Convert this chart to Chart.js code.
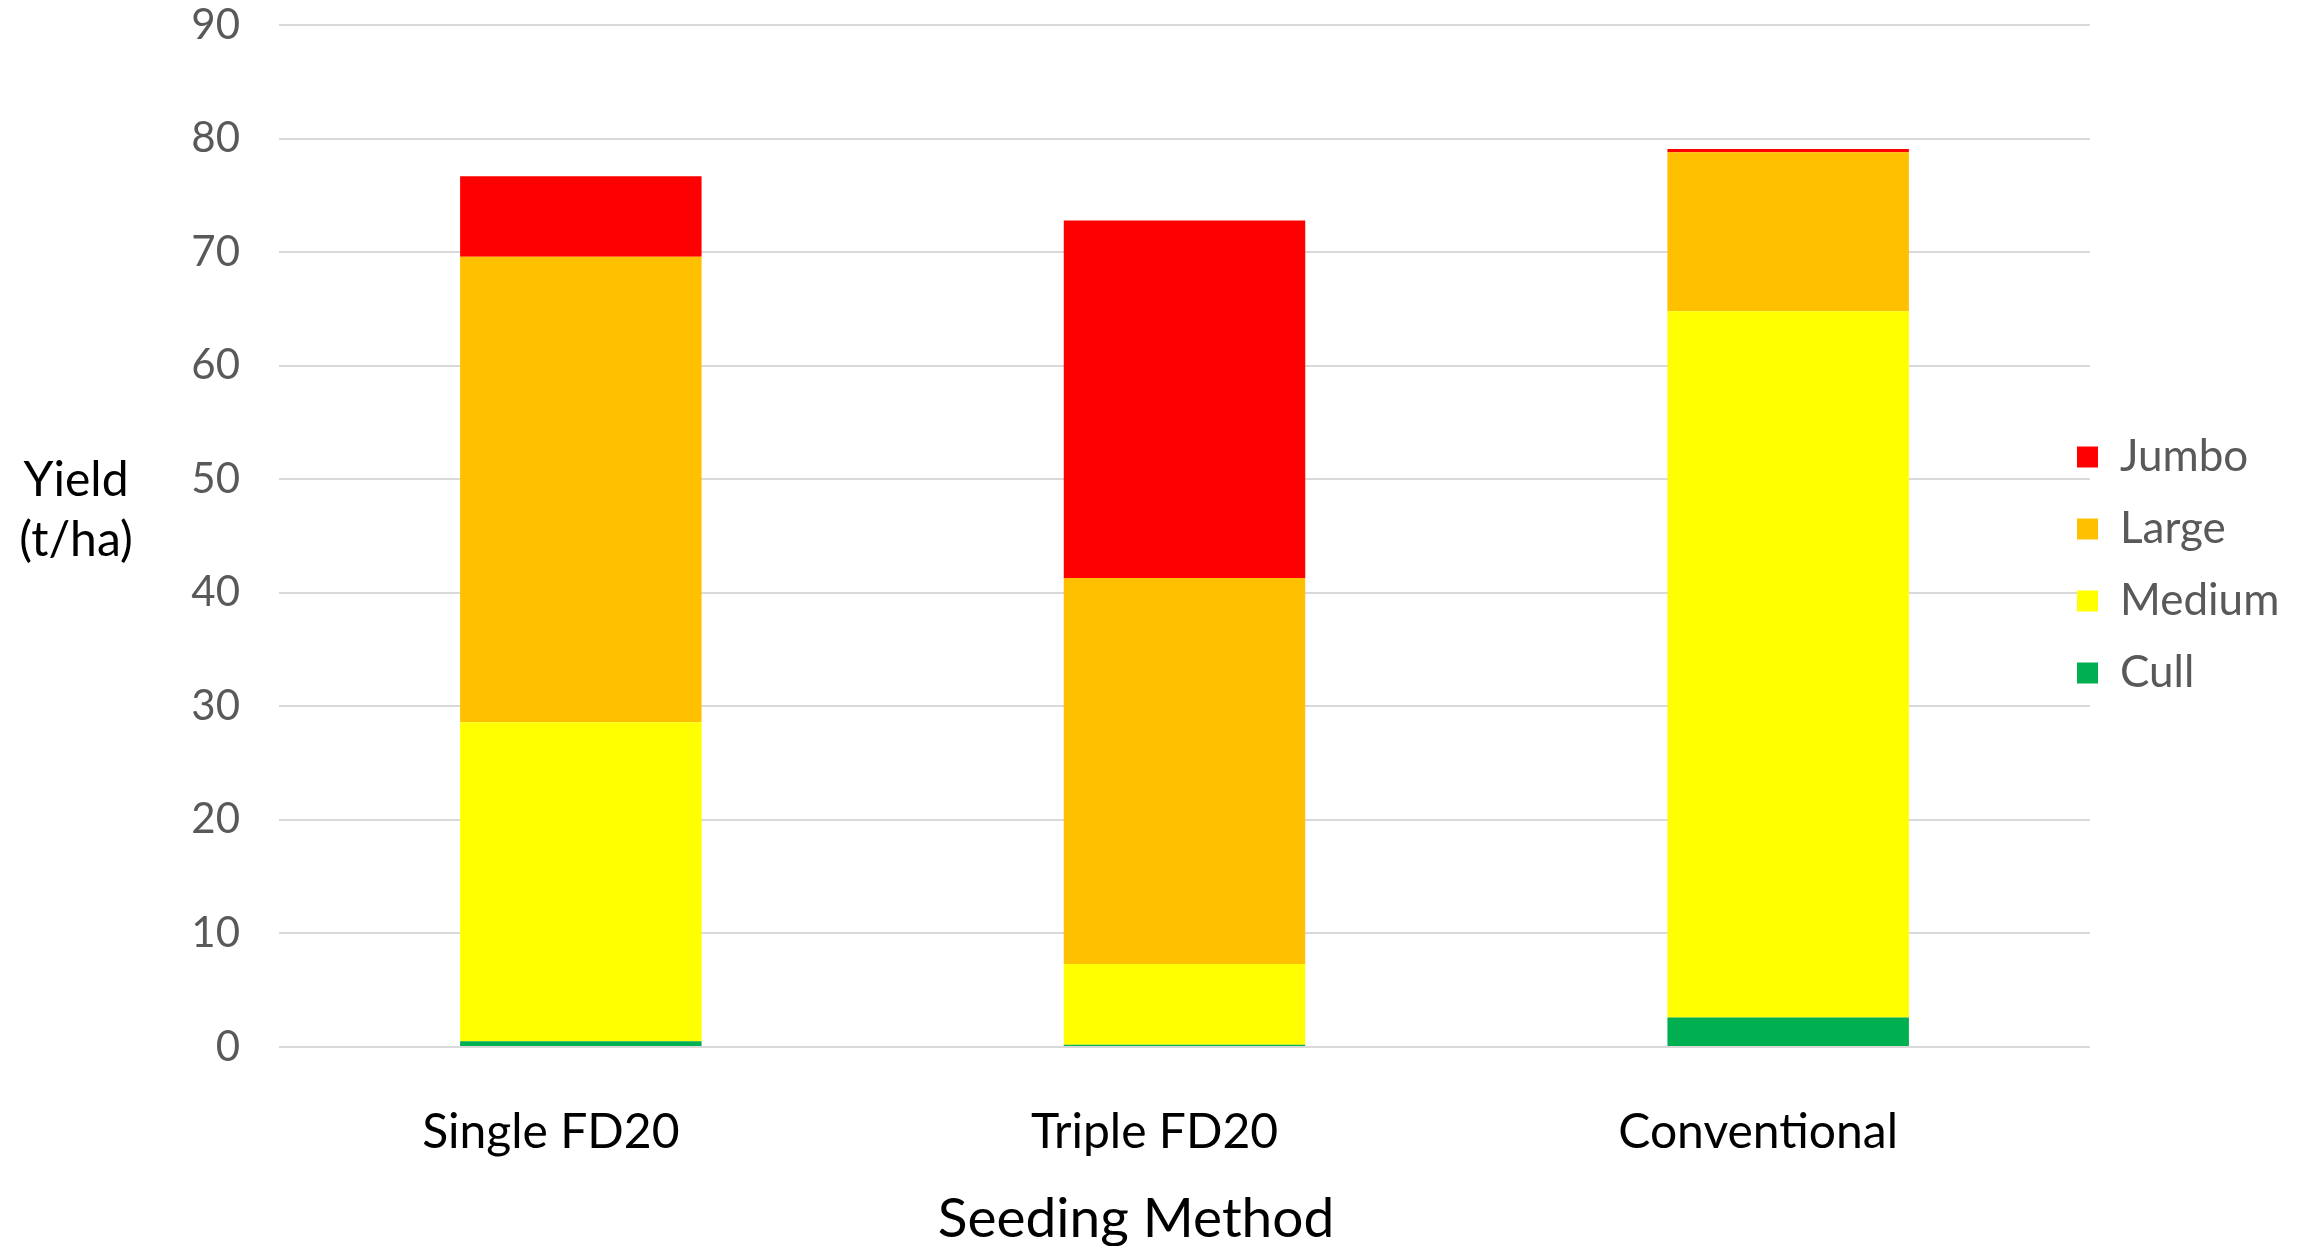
<!DOCTYPE html>
<html>
<head>
<meta charset="utf-8">
<title>Yield by seeding method</title>
<script src="https://cdn.jsdelivr.net/npm/chart.js@4.4.1/dist/chart.umd.min.js"></script>
<style>
  html, body { margin: 0; padding: 0; background: #fff; }
  #wrap { width: 2305px; height: 1246px; position: relative; }
</style>
</head>
<body>
<div id="wrap"><canvas id="yieldChart"></canvas></div>
<script>
const categories = ["Single FD20", "Triple FD20", "Conventional"];
const cull = [0.5, 0.2, 2.6];
const medium = [28.1, 7.1, 62.2];
const large = [41.0, 34.0, 14.0];
const jumbo = [7.1, 31.5, 0.3];
const yTicks = [0, 10, 20, 30, 40, 50, 60, 70, 80, 90];
const yTitle = ["Yield", "(t/ha)"];
const xTitle = "Seeding Method";

// titles are drawn by hand: the y one is horizontal on two lines
const axisTitles = {
  id: "axisTitles",
  afterDraw(chart) {
    const ctx = chart.ctx;
    ctx.save();
    ctx.fillStyle = "#000";
    ctx.textAlign = "center";
    ctx.textBaseline = "middle";
    ctx.font = "48px Lato";
    ctx.fillText(yTitle[0], 76, 481);
    ctx.fillText(yTitle[1], 76, 541);
    ctx.font = "55px Lato";
    ctx.fillText(xTitle, 1136, 1219);
    ctx.restore();
  }
};

// put the legend where the original has it
const legendSpot = {
  id: "legendSpot",
  afterLayout(chart) {
    const lg = chart.legend;
    if (!lg) return;
    lg.left = 2049; lg.right = 2305;
    lg.top = 407; lg.bottom = 1246;
    lg.width = lg.right - lg.left;
    lg.height = lg.bottom - lg.top;
  }
};

function drawChart() {
  const ctx = document.getElementById("yieldChart").getContext("2d");
  window.yieldChart = new Chart(ctx, {
    type: "bar",
    data: {
      labels: categories,
      datasets: [
        { label: "Cull", data: cull, backgroundColor: "#00B050" },
        { label: "Medium", data: medium, backgroundColor: "#FFFF00" },
        { label: "Large", data: large, backgroundColor: "#FFC000" },
        { label: "Jumbo", data: jumbo, backgroundColor: "#FF0000" }
      ]
    },
    options: {
      responsive: true,
      maintainAspectRatio: false,
      animation: false,
      layout: { padding: { top: 25, right: 215, bottom: 0, left: 0 } },
      datasets: {
        bar: { barPercentage: 0.4, categoryPercentage: 1, borderWidth: 0 }
      },
      plugins: {
        tooltip: { enabled: false },
        legend: {
          position: "chartArea",
          align: "start",
          reverse: true,
          labels: {
            boxWidth: 21,
            boxHeight: 21,
            padding: 28,
            color: "#595959",
            font: { family: "Lato", size: 44 }
          }
        }
      },
      scales: {
        x: {
          stacked: true,
          grid: { display: false, drawTicks: false },
          border: { display: false },
          ticks: {
            color: "#000",
            padding: 57,
            labelOffset: -30,
            maxRotation: 0,
            font: { family: "Lato", size: 48 }
          },
          afterFit(scale) { scale.height = 199; }
        },
        y: {
          stacked: true,
          min: 0,
          max: 90,
          afterBuildTicks(scale) { scale.ticks = yTicks.map(v => ({ value: v })); },
          grid: { color: "#d9d9d9", lineWidth: 2, drawTicks: true, tickLength: 39, tickColor: "rgba(0,0,0,0)" },
          border: { display: false },
          ticks: {
            color: "#595959",
            padding: 0,
            font: { family: "Lato", size: 42 }
          },
          afterFit(scale) { scale.width = 279; }
        }
      }
    },
    plugins: [axisTitles, legendSpot]
  });
}

document.fonts.load("42px Lato").then(drawChart, drawChart);
</script>
</body>
</html>
